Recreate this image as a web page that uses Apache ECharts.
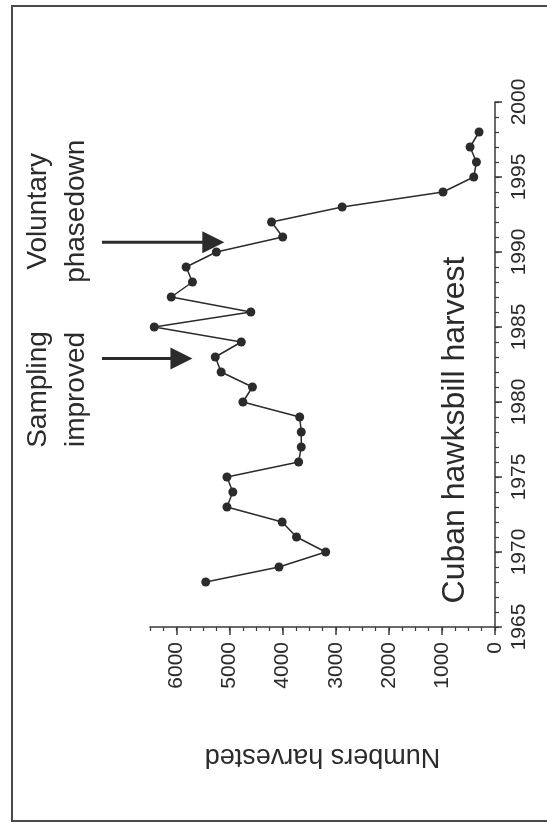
<!DOCTYPE html>
<html><head><meta charset="utf-8">
<script src="https://cdn.jsdelivr.net/npm/echarts/dist/echarts.min.js"></script>
<style>html,body{margin:0;padding:0;background:#fff}#c{width:547px;height:823px}</style>
</head><body><div id="c"></div>
<script>
// ---- data ----
const years = [1968,1969,1970,1971,1972,1973,1974,1975,1976,1977,1978,1979,1980,1981,1982,1983,1984,1985,1986,1987,1988,1989,1990,1991,1992,1993,1994,1995,1996,1997,1998];
const harvest = [5450,4070,3190,3740,4010,5050,4940,5050,3700,3650,3650,3680,4750,4570,5160,5270,4780,6420,4600,6100,5700,5820,5250,4000,4210,2880,980,400,350,470,300];
const yearTicks = [1965,1970,1975,1980,1985,1990,1995,2000];
const numberTicks = [0,1000,2000,3000,4000,5000,6000];
const titleText = 'Cuban hawksbill harvest';
const valueAxisName = 'Numbers harvested';
const annotationLabels = ['Sampling\nimproved', 'Voluntary\nphasedown'];
const annotationYears = [1982.9, 1990.65];
const annotationTips = [5700, 5100];

const FONT = '"Liberation Sans", Arial, sans-serif';
const INK = '#2b2b2b';
const chart = echarts.init(document.getElementById('c'), null, {renderer: 'canvas'});
const plain = v => String(v);

const option = {
  backgroundColor: '#ffffff',
  animation: false,
  grid: {left: 150, right: 52, top: 102, bottom: 196, containLabel: false},
  xAxis: [{
    type: 'value', inverse: true, min: 0, max: 6500, interval: 1000, position: 'bottom',
    axisLine: {show: true, lineStyle: {color: '#3a3a3a', width: 1.5}},
    axisTick: {show: true, inside: false, length: 8, lineStyle: {color: '#3a3a3a', width: 1.5}, customValues: numberTicks},
    axisLabel: {show: true, rotate: 90, margin: 15, fontSize: 21, color: INK, fontFamily: FONT, customValues: numberTicks, formatter: plain},
    splitLine: {show: false},
    name: valueAxisName, nameLocation: 'middle', nameRotate: 180, nameGap: 116,
    nameTextStyle: {fontSize: 27, color: INK, fontFamily: FONT}
  }, {
    type: 'value', inverse: true, min: 0, max: 6500, interval: 250, position: 'bottom',
    axisLine: {show: false}, axisLabel: {show: false}, splitLine: {show: false},
    axisTick: {show: true, inside: false, length: 4, lineStyle: {color: '#3a3a3a', width: 1.2}}
  }],
  yAxis: [{
    type: 'value', min: 1965, max: 2000, interval: 5, position: 'right',
    axisLine: {show: true, lineStyle: {color: '#3a3a3a', width: 1.5}},
    axisTick: {show: true, inside: false, length: 7, lineStyle: {color: '#3a3a3a', width: 1.5}, customValues: yearTicks},
    axisLabel: {show: true, rotate: 90, margin: 14, fontSize: 21, color: INK, fontFamily: FONT, customValues: yearTicks, formatter: plain},
    splitLine: {show: false}
  }, {
    type: 'value', min: 1965, max: 2000, interval: 1, position: 'right',
    axisLine: {show: false}, axisLabel: {show: false}, splitLine: {show: false},
    axisTick: {show: true, inside: false, length: 4, lineStyle: {color: '#3a3a3a', width: 1.2}}
  }],
  series: [{
    type: 'line', xAxisIndex: 0, yAxisIndex: 0,
    data: years.map((y, i) => [harvest[i], y]),
    symbol: 'circle', symbolSize: 9,
    lineStyle: {color: INK, width: 1.5},
    itemStyle: {color: INK},
    z: 5
  }]
};
chart.setOption(option);

// annotations & frame
const gfx = [];
gfx.push({type: 'rect', shape: {x: 12, y: 6, width: 600, height: 815}, style: {fill: 'none', stroke: '#4a4a4a', lineWidth: 2}, silent: true});
// title
gfx.push({type: 'text', x: 455, y: 430, rotation: Math.PI / 2,
  style: {text: titleText, fill: INK, font: '32px ' + FONT, align: 'center', verticalAlign: 'middle'}});
annotationLabels.forEach((lab, i) => {
  const py = chart.convertToPixel({yAxisIndex: 0}, annotationYears[i]);
  const tipX = chart.convertToPixel({xAxisIndex: 0}, annotationTips[i]);
  const startX = 102;
  const headLen = 22, headW = 11;
  gfx.push({type: 'line', shape: {x1: startX, y1: py, x2: tipX - headLen + 2, y2: py}, style: {stroke: INK, lineWidth: 3}});
  gfx.push({type: 'polygon', shape: {points: [[tipX, py], [tipX - headLen, py - headW], [tipX - headLen, py + headW]]}, style: {fill: INK}});
  gfx.push({type: 'text', x: 57, y: py + (i === 0 ? 31 : -31), rotation: Math.PI / 2,
    style: {text: lab, font: '28px ' + FONT, fill: INK, align: 'center', verticalAlign: 'middle', lineHeight: 38}});
});
chart.setOption({graphic: gfx});
</script></body></html>
